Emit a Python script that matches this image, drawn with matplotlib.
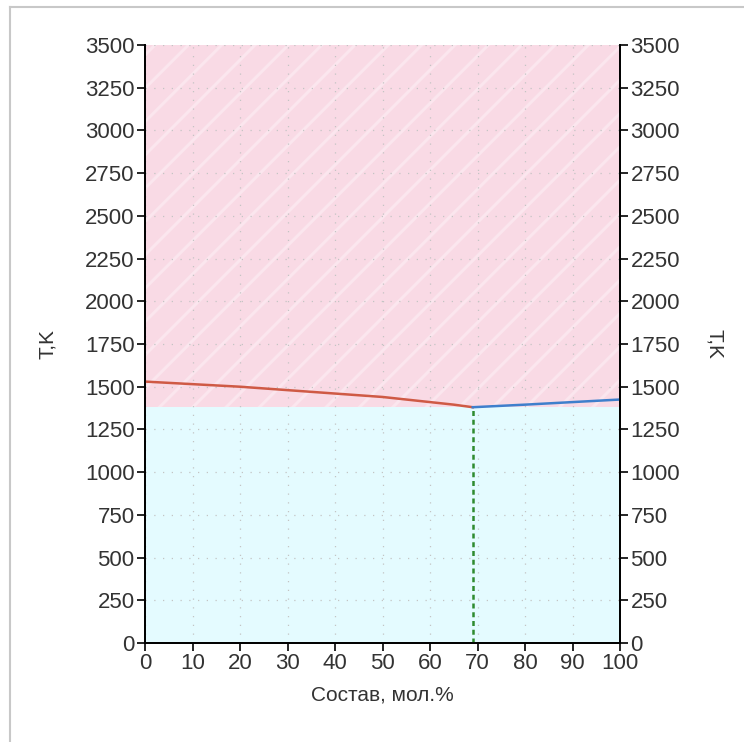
import matplotlib
matplotlib.use('Agg')
import matplotlib.pyplot as plt
from matplotlib.lines import Line2D

# линия ликвидуса (слева и справа от эвтектики)
liq_left_x = [0, 10, 20, 30, 40, 50, 58, 65, 69]
liq_left_t = [1530, 1515, 1500, 1480, 1460, 1440, 1416, 1395, 1380]
liq_right_x = [69, 80, 90, 100]
liq_right_t = [1380, 1395, 1410, 1425]
eut_x = 69
eut_t = 1380

x_ticks = list(range(0, 101, 10))
y_ticks = list(range(0, 3501, 250))
x_label = 'Состав, мол.%'
y_label = 'T,K'

plt.rcParams['font.family'] = ['Liberation Sans', 'DejaVu Sans']
plt.rcParams['hatch.linewidth'] = 2.2

fig = plt.figure(figsize=(7.44, 7.42), dpi=100)
ax = fig.add_axes([145 / 744, 1 - 643 / 742, 475 / 744, 598 / 742])

# области диаграммы
ax.fill_between([0, 100], eut_t, 3500, facecolor='#f9dae5', edgecolor='#fbe6ee',
                hatch='/', linewidth=0, zorder=0)
ax.fill_between([0, 100], 0, eut_t, facecolor='#e4fbff', linewidth=0, zorder=0)

ax.grid(True, color='#c4c4c4', linestyle=(0, (1, 6)), linewidth=0.9, zorder=1)

ax.plot(liq_left_x, liq_left_t, color='#cf5a45', linewidth=1.8, zorder=3)
ax.plot(liq_right_x, liq_right_t, color='#3f7fcc', linewidth=1.8, zorder=3)
ax.plot([eut_x, eut_x], [0, eut_t], color='#2e8b2e', linewidth=1.8,
        linestyle=(0, (2, 1.5)), zorder=3)

ax.set_xlim(0, 100)
ax.set_ylim(0, 3500)
ax.set_xticks(x_ticks)
ax.set_yticks(y_ticks)
ax.set_axisbelow(True)

ax2 = ax.twinx()
ax2.set_ylim(0, 3500)
ax2.set_yticks(y_ticks)

for a in (ax, ax2):
    a.spines['top'].set_visible(False)
    for s in ('left', 'right', 'bottom'):
        a.spines[s].set_linewidth(1.3)
        a.spines[s].set_color('black')
    a.tick_params(length=6, width=1.2, colors='black', labelcolor='#333333',
                  labelsize=16, pad=1.5)

ax.set_xlabel(x_label, fontsize=15, color='#333333', labelpad=8)
ax.set_ylabel(y_label, fontsize=15, color='#333333', labelpad=20)
ax2.set_ylabel(y_label, fontsize=15, color='#333333', rotation=-90, labelpad=32)

# рамка окна
fig.add_artist(Line2D([10 / 744, 10 / 744], [0, 1 - 7 / 742], color='#c8c8c8', linewidth=1.5))
fig.add_artist(Line2D([10 / 744, 1], [1 - 7 / 742, 1 - 7 / 742], color='#c8c8c8', linewidth=1.5))

fig.savefig('out.png', dpi=100)
